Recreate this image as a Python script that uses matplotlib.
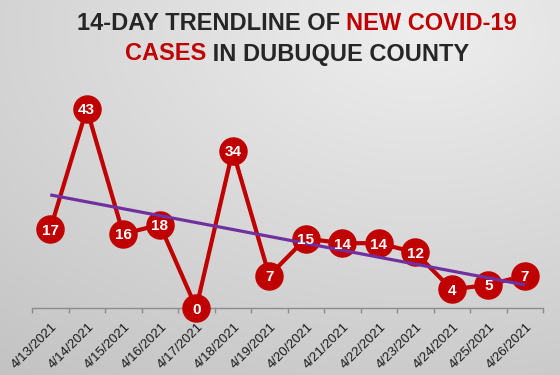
import numpy as np
import matplotlib
matplotlib.use("Agg")
import matplotlib.pyplot as plt
from matplotlib import transforms

dates = ["4/13/2021", "4/14/2021", "4/15/2021", "4/16/2021", "4/17/2021",
         "4/18/2021", "4/19/2021", "4/20/2021", "4/21/2021", "4/22/2021",
         "4/23/2021", "4/24/2021", "4/25/2021", "4/26/2021"]
cases = [17, 43, 16, 18, 0, 34, 7, 15, 14, 14, 12, 4, 5, 7]

title_line1 = [("14-DAY TRENDLINE OF ", "#262626"), ("NEW COVID-19", "#C00000")]
title_line2 = [("CASES", "#C00000"), (" IN DUBUQUE COUNTY", "#262626")]

RED = "#C00000"
PURPLE = "#7030A0"

W, H = 560, 375
fig = plt.figure(figsize=(W / 100, H / 100), dpi=100)

# background gradient
bg = fig.add_axes([0, 0, 1, 1], zorder=-10)
yy, xx = np.mgrid[0:H, 0:W]
d = np.sqrt(((xx - 420) / 1.6) ** 2 + (yy - 30) ** 2)
val = np.clip(238 - 0.1 * d, 190, 240) / 255.0
bg.imshow(np.dstack([val, val, val]), extent=[0, 1, 0, 1], aspect="auto", origin="upper")
bg.axis("off")

ax = fig.add_axes([32 / W, 1 - 308 / H, (543 - 32) / W, 231.5 / H])
ax.patch.set_alpha(0)
x = np.arange(len(cases))
ax.plot(x, cases, color=RED, lw=3.0, marker="o", ms=19.5, mfc=RED, mec=RED,
        zorder=3, solid_capstyle="round", clip_on=False)
coef = np.polyfit(x, cases, 1)
ax.plot(x[[0, -1]], np.polyval(coef, x[[0, -1]]), color=PURPLE, lw=2.3,
        zorder=4, solid_capstyle="butt", clip_on=False)
for xi, v in zip(x, cases):
    ax.text(xi, v, str(v), color="white", fontsize=11, fontweight="bold",
            family="Liberation Sans", ha="center", va="center_baseline", zorder=5)

ax.set_xlim(-0.5, len(cases) - 0.5)
ax.set_ylim(0, 50)
for s in ["left", "top", "right"]:
    ax.spines[s].set_visible(False)
ax.spines["bottom"].set_color("#8c8c8c")
ax.spines["bottom"].set_linewidth(1.0)
ax.set_yticks([])
ax.set_xticks(np.arange(-0.5, len(cases)), labels=[""] * (len(cases) + 1))
ax.tick_params(axis="x", which="major", length=3.5, color="#8c8c8c", width=1)
ax.set_xticks(x, labels=dates, minor=True)
ax.tick_params(axis="x", which="minor", length=0, pad=9)
offset = transforms.ScaledTranslation(1 / 100, 0, fig.dpi_scale_trans)
for lab in ax.get_xticklabels(minor=True):
    lab.set_rotation(45)
    lab.set_ha("right")
    lab.set_va("top")
    lab.set_rotation_mode("anchor")
    lab.set_fontsize(9.5)
    lab.set_family("Liberation Sans")
    lab.set_color("#1a1a1a")
    lab.set_transform(lab.get_transform() + offset)


def colored_line(parts, ycen, cx):
    texts = [fig.text(0, ycen, s, color=c, fontsize=17, fontweight="bold",
                      family="Liberation Sans", ha="left", va="center")
             for s, c in parts]
    fig.canvas.draw()
    r = fig.canvas.get_renderer()
    widths = [t.get_window_extent(r).width for t in texts]
    xpos = cx * W - sum(widths) / 2
    for t, w in zip(texts, widths):
        t.set_x(xpos / W)
        xpos += w


colored_line(title_line1, 1 - 23 / H, 297 / W)
colored_line(title_line2, 1 - 54 / H, 297 / W)

fig.savefig("out.png", dpi=100)
